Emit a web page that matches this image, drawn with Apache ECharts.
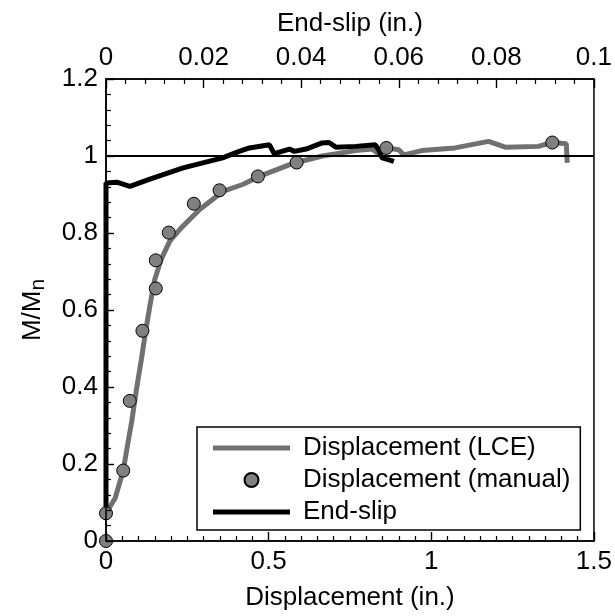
<!DOCTYPE html>
<html>
<head>
<meta charset="utf-8">
<script src="https://cdn.jsdelivr.net/npm/echarts@6/dist/echarts.min.js"></script>
<style>html,body{margin:0;padding:0;background:#fff}#c{width:615px;height:616px}</style>
</head>
<body>
<div id="c"></div>
<script>
// Displacement (LCE) – bottom axis (in.)
var lceX = [0, 0.028, 0.053, 0.068, 0.079, 0.094, 0.109, 0.122, 0.135, 0.150, 0.170, 0.196, 0.232, 0.288, 0.359, 0.420, 0.471, 0.563, 0.586, 0.665, 0.767, 0.818, 0.834, 0.862, 0.900, 0.915, 0.971, 1.073, 1.176, 1.227, 1.329, 1.372, 1.415, 1.418];
var lceY = [0.072, 0.111, 0.183, 0.258, 0.310, 0.396, 0.473, 0.546, 0.611, 0.680, 0.732, 0.779, 0.814, 0.861, 0.908, 0.926, 0.947, 0.977, 0.983, 1.000, 1.014, 1.018, 1.008, 1.021, 1.016, 1.003, 1.014, 1.021, 1.038, 1.023, 1.025, 1.035, 1.032, 0.982];
// Displacement (manual)
var manualX = [0, 0, 0.053, 0.073, 0.112, 0.153, 0.153, 0.193, 0.270, 0.349, 0.467, 0.586, 0.862, 1.372];
var manualY = [0, 0.072, 0.183, 0.364, 0.546, 0.656, 0.729, 0.801, 0.876, 0.911, 0.947, 0.983, 1.021, 1.035];
// End-slip – top axis (in.)
var slipX = [0, 0, 0.0022, 0.0049, 0.009, 0.0158, 0.0239, 0.0273, 0.0294, 0.0335, 0.0345, 0.0376, 0.0386, 0.041, 0.0443, 0.0457, 0.0471, 0.0512, 0.0552, 0.0559, 0.0566, 0.058, 0.059];
var slipY = [0.072, 0.930, 0.932, 0.921, 0.940, 0.969, 0.995, 1.012, 1.021, 1.029, 1.006, 1.018, 1.012, 1.018, 1.034, 1.035, 1.023, 1.025, 1.029, 1.016, 0.995, 0.990, 0.986];
var seriesNames = ['Displacement (LCE)', 'Displacement (manual)', 'End-slip'];
var refLine = 1;

function zip(a, b) { return a.map(function (v, i) { return [v, b[i]]; }); }

var FONT = 'Liberation Sans, Arial, sans-serif';
var FS = 26;
var BAR_ICON = 'path://M0,0L0.01,0M0,14L0.01,14M0,4.5L77,4.5L77,9.5L0,9.5Z';
var chart = echarts.init(document.getElementById('c'), null, {renderer: 'canvas'});

function makeAxis(extra, minorSplit, tickLen) {
  var ax = {
    nameLocation: 'middle',
    axisLine: {show: true, onZero: false, lineStyle: {color: '#000', width: 1.5}},
    axisTick: {show: true, inside: true, length: tickLen, lineStyle: {color: '#000', width: 1.4}},
    minorTick: {show: true, splitNumber: minorSplit, length: 5, lineStyle: {color: '#000', width: 1.2}},
    splitLine: {show: false},
    minorSplitLine: {show: false},
    axisLabel: {color: '#000', fontSize: FS, fontFamily: FONT, margin: 8},
    nameTextStyle: {color: '#000', fontSize: FS, fontFamily: FONT}
  };
  for (var k in extra) ax[k] = extra[k];
  return ax;
}

chart.setOption({
  animation: false,
  backgroundColor: '#fff',
  grid: {left: 106, right: 19, top: 79, bottom: 73, show: true, borderColor: '#000', borderWidth: 1.5, backgroundColor: 'transparent', z: 0},
  xAxis: [
    makeAxis({type: 'value', position: 'bottom', min: 0, max: 1.5, interval: 0.5,
      name: 'Displacement (in.)', nameGap: 44, z: 10}, 10, 9),
    makeAxis({type: 'value', position: 'top', min: 0, max: 0.1, interval: 0.02,
      name: 'End-slip (in.)', nameGap: 42, z: 10}, 5, 9)
  ],
  yAxis: [
    makeAxis({type: 'value', min: 0, max: 1.2, interval: 0.2, z: 10,
      name: '{a|M/M}{b|n}', nameGap: 60,
      nameTextStyle: {color: '#000', fontFamily: FONT, rich: {
        a: {fontSize: FS, fontFamily: FONT, color: '#000'},
        b: {fontSize: 21, fontFamily: FONT, color: '#000', padding: [0, 0, -10, 0]}
      }}}, 5, 8)
  ],
  legend: {
    data: [
      {name: seriesNames[0], icon: BAR_ICON, itemStyle: {color: '#707070', borderWidth: 0}},
      {name: seriesNames[1], icon: 'circle'},
      {name: seriesNames[2], icon: BAR_ICON, itemStyle: {color: '#000', borderWidth: 0}}
    ],
    orient: 'vertical', left: 197, top: 427,
    itemWidth: 77, itemHeight: 14, itemGap: 6,
    padding: [8, 10, 5, 16],
    borderColor: '#000', borderWidth: 1.5, backgroundColor: '#fff',
    textStyle: {color: '#000', fontSize: FS, fontFamily: FONT, padding: [0, 0, 0, 8]},
    selectedMode: false
  },
  series: [
    {
      name: seriesNames[0], type: 'line', xAxisIndex: 0, yAxisIndex: 0,
      data: zip(lceX, lceY), symbol: 'none', showSymbol: false, smooth: false,
      lineStyle: {color: '#707070', width: 5}, itemStyle: {color: '#707070'}, z: 2,
      markLine: {
        silent: true, symbol: 'none', label: {show: false},
        lineStyle: {color: '#000', width: 2, type: 'solid'},
        data: [{yAxis: refLine}], animation: false
      }
    },
    {
      name: seriesNames[2], type: 'line', xAxisIndex: 1, yAxisIndex: 0,
      data: zip(slipX, slipY), symbol: 'none', showSymbol: false, smooth: false,
      lineStyle: {color: '#000', width: 5}, itemStyle: {color: '#000'}, z: 3
    },
    {
      name: seriesNames[1], type: 'scatter', xAxisIndex: 0, yAxisIndex: 0,
      data: zip(manualX, manualY), symbol: 'circle', symbolSize: 13,
      itemStyle: {color: '#808080', borderColor: '#000', borderWidth: 1, opacity: 1}, z: 4
    }
  ]
});
</script>
</body>
</html>
